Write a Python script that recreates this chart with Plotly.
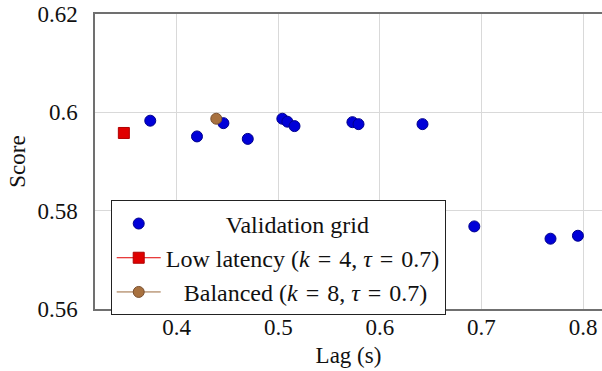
import plotly.graph_objects as go

# Validation grid points (lag in s, score)
grid_lag = [0.374, 0.420, 0.446, 0.470, 0.504, 0.509, 0.516, 0.573, 0.579, 0.642, 0.693, 0.768, 0.795]
grid_score = [0.5983, 0.5951, 0.5978, 0.5946, 0.5987, 0.5981, 0.5972, 0.5980, 0.5976, 0.5976, 0.5768, 0.5743, 0.5749]

low_lag = [0.348]
low_score = [0.5958]

bal_lag = [0.439]
bal_score = [0.5987]

x_ticks = [0.4, 0.5, 0.6, 0.7, 0.8]
x_ticktext = ["0.4", "0.5", "0.6", "0.7", "0.8"]
y_ticks = [0.56, 0.58, 0.6, 0.62]
y_ticktext = ["0.56", "0.58", "0.6", "0.62"]

FONT = '"Liberation Serif", "Times New Roman", serif'
SP = "\u2004"

fig = go.Figure()
fig.add_trace(go.Scatter(
    x=grid_lag, y=grid_score, mode="markers",
    name="\u2003\u2003\u2002Validation grid",
    marker=dict(symbol="circle", size=11, color="#0000d8",
                line=dict(color="#00008c", width=1)),
))
fig.add_trace(go.Scatter(
    x=low_lag, y=low_score, mode="lines+markers",
    name=f"Low latency (<i>k</i>{SP}={SP}4, <i>τ</i>{SP}={SP}0.7)",
    line=dict(color="#e00000", width=1),
    marker=dict(symbol="square", size=11, color="#e00000",
                line=dict(color="#b00000", width=1)),
))
fig.add_trace(go.Scatter(
    x=bal_lag, y=bal_score, mode="lines+markers",
    name=f"\u2002\u2005Balanced (<i>k</i>{SP}={SP}8, <i>τ</i>{SP}={SP}0.7)",
    line=dict(color="#9c6a3c", width=1),
    marker=dict(symbol="circle", size=11, color="#a8713f",
                line=dict(color="#7a5030", width=1)),
))

fig.update_layout(
    width=602, height=371,
    margin=dict(l=95, r=0, t=14, b=62, autoexpand=False),
    paper_bgcolor="white", plot_bgcolor="white",
    font=dict(family=FONT, size=23, color="#111"),
    showlegend=True,
    legend=dict(
        x=0.031, y=0.368, xanchor="left", yanchor="top",
        bgcolor="white", bordercolor="#222", borderwidth=1,
        font=dict(family=FONT, size=24, color="#111"),
        itemwidth=44, tracegroupgap=0,
    ),
    xaxis=dict(
        range=[0.3196, 0.8187], automargin=False,
        tickvals=x_ticks, ticktext=x_ticktext,
        showgrid=True, gridcolor="#d9d9d9", gridwidth=1,
        showline=True, linecolor="#707070", linewidth=1.5, mirror=True,
        ticks="", zeroline=False, ticklabelstandoff=-3,
        title=dict(text="Lag (s)", font=dict(family=FONT, size=23), standoff=8),
        tickfont=dict(family=FONT, size=23),
    ),
    yaxis=dict(
        range=[0.56, 0.62], automargin=False,
        tickvals=y_ticks, ticktext=y_ticktext,
        showgrid=True, gridcolor="#d9d9d9", gridwidth=1,
        showline=True, linecolor="#707070", linewidth=1.5, mirror=False,
        ticks="", zeroline=False, ticklabelstandoff=11,
        title=dict(text="Score", font=dict(family=FONT, size=23), standoff=5),
        tickfont=dict(family=FONT, size=23),
    ),
)

fig.write_html("out.html", config={"displayModeBar": False},
               post_script="document.body.style.margin='0';")
